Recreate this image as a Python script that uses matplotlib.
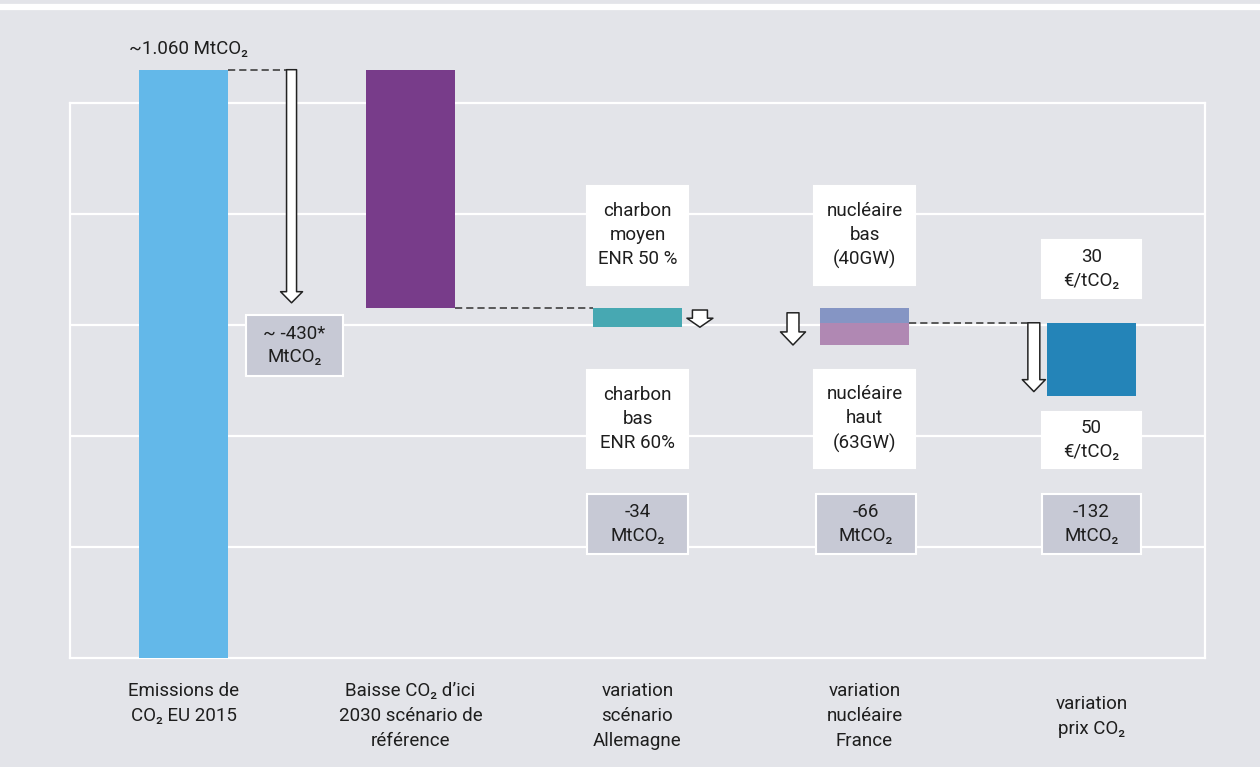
import matplotlib
matplotlib.use("Agg")
import matplotlib.pyplot as plt
from matplotlib.patches import Rectangle, FancyArrowPatch, ArrowStyle
from matplotlib.transforms import blended_transform_factory

plt.rcParams['font.family'] = ['Roboto', 'DejaVu Sans']

# emissions and variations, MtCO2
categories = ["Emissions de\nCO₂ EU 2015",
              "Baisse CO₂ d’ici\n2030 scénario de\nréférence",
              "variation\nscénario\nAllemagne",
              "variation\nnucléaire\nFrance",
              "variation\nprix CO₂"]
emissions_2015 = 1060
baisse_ref = -430
var_allemagne = -34
var_nucl_bas = -26
var_nucl = -66
var_prix = -132

top_label = "~1.060 MtCO₂"
delta_labels = ["~ -430*\nMtCO₂", "-34\nMtCO₂", "-66\nMtCO₂", "-132\nMtCO₂"]
upper_notes = ["charbon\nmoyen\nENR 50 %", "nucléaire\nbas\n(40GW)", "30\n€/tCO₂"]
lower_notes = ["charbon\nbas\nENR 60%", "nucléaire\nhaut\n(63GW)", "50\n€/tCO₂"]

BG = '#e3e4e9'
BOXGRAY = '#c7c9d5'
DASH = '#4d4d4d'
TXT = '#1e1e1e'
FS = 13.5

fig = plt.figure(figsize=(12.6, 7.67), dpi=100, facecolor=BG)
ax = fig.add_axes([70/1260, 109/767, 1135/1260, 555/767])
ax.set_facecolor(BG)
ax.set_xlim(-0.5, 4.5)
ax.set_ylim(0, 1000)
for s in ax.spines.values():
    s.set_color('white')
    s.set_linewidth(1.6)
ax.set_yticks([200, 400, 600, 800])
ax.set_xticks([])
ax.tick_params(left=False, labelleft=False)
ax.grid(axis='y', color='white', linewidth=1.6)
ax.set_axisbelow(True)

# thin white line along the top
fig.add_artist(plt.Line2D([0, 1], [1 - 6.5/767] * 2, color='white', lw=4.5,
                          transform=fig.transFigure))

w = 0.396
ref_level = emissions_2015 + baisse_ref
de_level = ref_level + var_allemagne
split_level = ref_level + var_nucl_bas
fr_level = ref_level + var_nucl
prix_level = split_level + var_prix

ax.bar(0, emissions_2015, width=w, color='#63b8e9', clip_on=False, zorder=3)
ax.bar(1, -baisse_ref, bottom=ref_level, width=w, color='#783c8a', clip_on=False, zorder=3)
ax.bar(2, -var_allemagne, bottom=de_level, width=w, color='#47a8b2', zorder=3)
ax.bar(3, -var_nucl_bas, bottom=split_level, width=w, color='#8595c4', zorder=3)
ax.bar(3, split_level - fr_level, bottom=fr_level, width=w, color='#b088b3', zorder=3)
ax.bar(4, -var_prix, bottom=prix_level, width=w, color='#2484b8', zorder=3)


def arrow(x, y0, y1, tail, hw, hl):
    a = FancyArrowPatch((x, y0), (x, y1),
                        arrowstyle=ArrowStyle.Simple(head_length=hl, head_width=hw,
                                                     tail_width=tail),
                        mutation_scale=1, fc='white', ec='#222222', lw=1.1,
                        shrinkA=0, shrinkB=0, zorder=4, clip_on=False)
    ax.add_patch(a)


arrow(0.476, emissions_2015, ref_level + 10, 7.2, 15.8, 8.0)
arrow(2.275, ref_level - 3, de_level, 10.8, 18.7, 6.5)
arrow(2.685, ref_level - 8, fr_level, 8.6, 18.0, 9.4)
arrow(3.746, split_level, prix_level + 8, 8.6, 16.6, 8.6)

dash = dict(color=DASH, lw=1.3, ls=(0, (4, 2.2)), zorder=3, clip_on=False)
ax.plot([w/2, 0.5], [emissions_2015] * 2, **dash)
ax.plot([1 + w/2, 2 - w/2], [ref_level] * 2, **dash)
ax.plot([3 + w/2, 3.73], [split_level] * 2, **dash)

ax.text(0.02, emissions_2015 + 37, top_label, ha='center', va='center', fontsize=FS,
        color=TXT, clip_on=False)


def box(xc, y0, y1, bw, text, fc, ec):
    ax.add_patch(Rectangle((xc - bw/2, y0), bw, y1 - y0, fc=fc, ec=ec, lw=1.5, zorder=5))
    ax.text(xc, (y0 + y1) / 2, text, ha='center', va='center', fontsize=FS,
            color=TXT, linespacing=1.42, zorder=6)


# white scenario boxes
box(2, 672, 851, 0.445, upper_notes[0], 'white', 'white')
box(3, 672, 851, 0.445, upper_notes[1], 'white', 'white')
box(4, 649, 754, 0.437, upper_notes[2], 'white', 'white')
box(2, 342, 519, 0.445, lower_notes[0], 'white', 'white')
box(3, 342, 519, 0.445, lower_notes[1], 'white', 'white')
box(4, 342, 444, 0.437, lower_notes[2], 'white', 'white')

# grey delta boxes
box(0.489, 508, 618, 0.427, delta_labels[0], BOXGRAY, 'white')
box(2, 188, 296, 0.445, delta_labels[1], BOXGRAY, 'white')
box(3.005, 188, 296, 0.44, delta_labels[2], BOXGRAY, 'white')
box(4, 188, 296, 0.437, delta_labels[3], BOXGRAY, 'white')

trans = blended_transform_factory(ax.transData, ax.transAxes)
for i, lab in enumerate(categories):
    y = -0.044 if i < 4 else -0.067
    ax.text(i, y, lab, transform=trans, ha='center', va='top', fontsize=FS,
            color=TXT, linespacing=1.5)

fig.savefig('out.png', dpi=100, facecolor=BG)
